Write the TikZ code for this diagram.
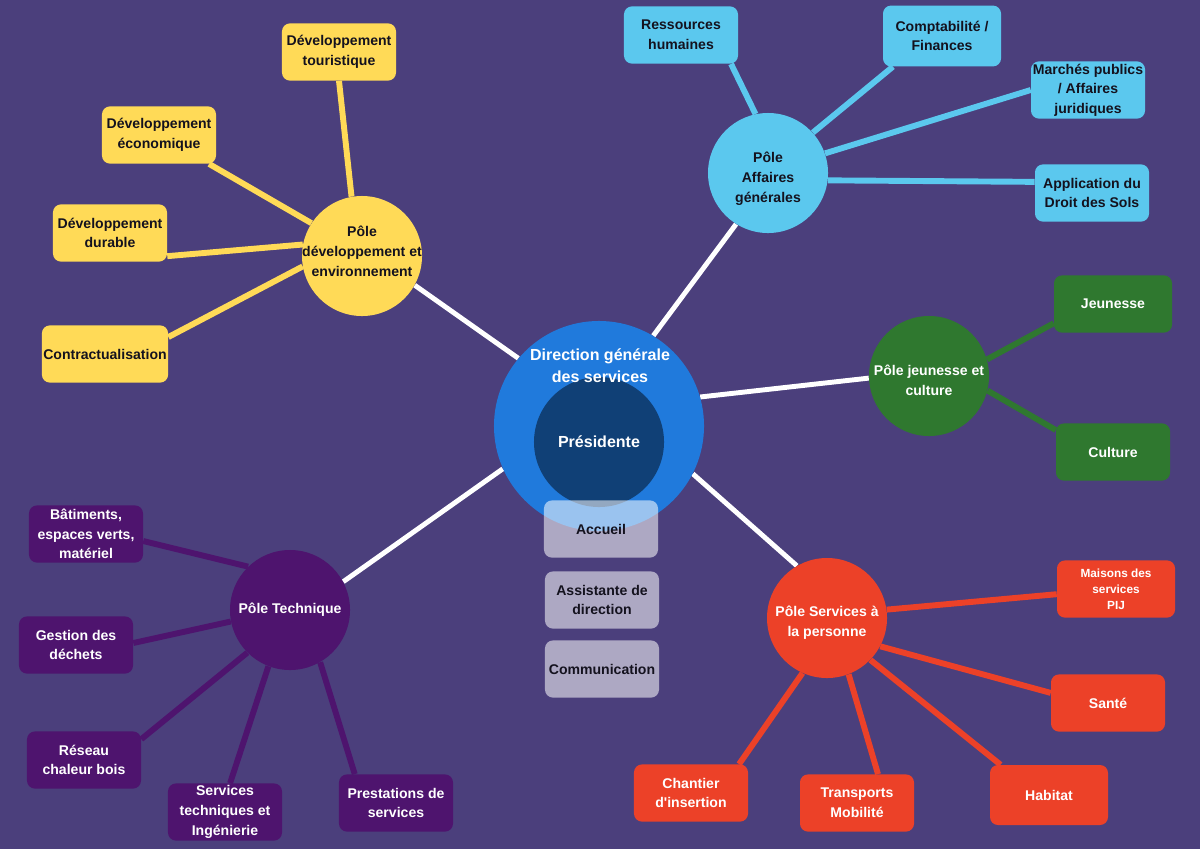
\documentclass[tikz,border=0pt]{standalone}
\usepackage{fontspec}
\setmainfont{Liberation Sans}
\usetikzlibrary{backgrounds}
\definecolor{fond}{RGB}{75,63,124}
\definecolor{jaune}{RGB}{255,218,87}
\definecolor{ciel}{RGB}{91,200,238}
\definecolor{bleu}{RGB}{32,122,220}
\definecolor{nuit}{RGB}{16,64,118}
\definecolor{vert}{RGB}{47,120,47}
\definecolor{rouge}{RGB}{236,65,40}
\definecolor{violet}{RGB}{78,20,110}
\definecolor{encre}{RGB}{20,18,30}

\begin{document}
\begin{tikzpicture}[x=0.025cm, y=-0.025cm,
  every node/.style={font=\bfseries\fontsize{10}{14}\selectfont, align=center},
  pole/.style={circle, minimum size=3cm, inner sep=0pt},
  boite/.style={rounded corners=0.2cm, minimum width=2.85cm, minimum height=1.43cm, inner sep=1pt},
  gris/.style={boite, fill=white, fill opacity=.55, text opacity=1, text=encre},
  lien/.style={line width=4.2pt},
  axe/.style={white, line width=3.5pt}]
  \begin{pgfonlayer}{background}
    \fill[fond] (0,0) rectangle (1200,849);
  \end{pgfonlayer}
  \useasboundingbox (0,0) rectangle (1200,849);

  % centre
  \node[circle, fill=bleu, minimum size=5.25cm] (dgs) at (599,426) {};
  \node[circle, fill=nuit, minimum size=3.25cm, text=white, font=\bfseries\fontsize{11.4}{16}\selectfont] (pres) at (599,442) {Présidente};
  \node[text=white, font=\bfseries\fontsize{11.4}{15.6}\selectfont] (dgs-t) at (600,366) {Direction générale\\des services};
  \node[gris] (acc) at (601,529) {Accueil};
  \node[gris] (ass) at (602,600) {Assistante de\\direction};
  \node[gris] (com) at (602,669) {Communication};

  % pôles
  \node[pole, fill=jaune, label={[text=encre, yshift=.12cm]center:Pôle\\développement et\\environnement}] (pd) at (362,256) {};
  \node[pole, fill=ciel, label={[text=encre, yshift=-.14cm]center:Pôle\\Affaires\\générales}] (pa) at (768,173) {};
  \node[pole, fill=vert, label={[text=white, yshift=-.1cm]center:Pôle jeunesse et\\culture}] (pj) at (929,376) {};
  \node[pole, fill=rouge, label={[text=white, yshift=-.12cm]center:Pôle Services à\\la personne}] (ps) at (827,618) {};
  \node[pole, fill=violet, label={[text=white]center:Pôle Technique}] (pt) at (290,610) {};

  % développement
  \node[boite, fill=jaune, text=encre] (d1) at (339,52) {Développement\\touristique};
  \node[boite, fill=jaune, text=encre] (d2) at (159,135) {Développement\\économique};
  \node[boite, fill=jaune, text=encre] (d3) at (110,233) {Développement\\durable};
  \node[boite, fill=jaune, text=encre, minimum width=3.1cm] (d4) at (105,354) {Contractualisation};

  % affaires générales
  \node[boite, fill=ciel, text=encre] (a1) at (681,35) {Ressources\\humaines};
  \node[boite, fill=ciel, text=encre, minimum width=2.95cm, minimum height=1.52cm] (a2) at (942,36) {Comptabilité /\\Finances};
  \node[boite, fill=ciel, text=encre] (a3) at (1088,90) {Marchés publics\\/ Affaires\\juridiques};
  \node[boite, fill=ciel, text=encre] (a4) at (1092,193) {Application du\\Droit des Sols};

  % jeunesse
  \node[boite, fill=vert, text=white, minimum width=2.95cm] (j1) at (1113,304) {Jeunesse};
  \node[boite, fill=vert, text=white] (j2) at (1113,452) {Culture};

  % services à la personne
  \node[boite, fill=rouge, text=white, minimum width=2.95cm, font=\bfseries\fontsize{8.4}{11.3}\selectfont] (s1) at (1116,589) {Maisons des\\services\\PIJ};
  \node[boite, fill=rouge, text=white] (s2) at (1108,703) {Santé};
  \node[boite, fill=rouge, text=white, minimum width=2.95cm, minimum height=1.5cm] (s3) at (1049,795) {Habitat};
  \node[boite, fill=rouge, text=white] (s4) at (857,803) {Transports\\Mobilité};
  \node[boite, fill=rouge, text=white] (s5) at (691,793) {Chantier\\d\textquotesingle insertion};

  % technique
  \node[boite, fill=violet, text=white] (t1) at (86,534) {Bâtiments,\\espaces verts,\\matériel};
  \node[boite, fill=violet, text=white] (t2) at (76,645) {Gestion des\\déchets};
  \node[boite, fill=violet, text=white] (t3) at (84,760) {Réseau\\chaleur bois};
  \node[boite, fill=violet, text=white] (t4) at (225,812) {Services\\techniques et\\Ingénierie};
  \node[boite, fill=violet, text=white] (t5) at (396,803) {Prestations de\\services};

  \begin{pgfonlayer}{background}
    \draw[axe] (dgs.140)--(pd.-29);
    \draw[axe] (dgs.59)--(pa.238);
    \draw[axe] (dgs.16)--(pj.182);
    \draw[axe] (dgs.-27)--(ps.120);
    \draw[axe] (dgs.204)--(pt.28);
    \draw[lien, jaune] (pd.100)--(d1.south);
    \draw[lien, jaune] (pd.147)--(d2.-30);
    \draw[lien, jaune] (pd.169)--(d3.-22);
    \draw[lien, jaune] (pd.190)--(d4.15);
    \draw[lien, ciel] (pa.102)--(a1.-30);
    \draw[lien, ciel] (pa.42)--(a2.212);
    \draw[lien, ciel] (pa.19)--(a3.west);
    \draw[lien, ciel] (pa.-7)--(a4.169);
    \draw[lien, vert] (pj.16)--(j1.198);
    \draw[lien, vert] (pj.-14)--(j2.159);
    \draw[lien, rouge] (ps.8)--(s1.185);
    \draw[lien, rouge] (ps.-28)--(s2.170);
    \draw[lien, rouge] (ps.-44)--(s3.148);
    \draw[lien, rouge] (ps.-69)--(s4.54);
    \draw[lien, rouge] (ps.246)--(s5.31);
    \draw[lien, violet] (pt.134)--(t1.-7);
    \draw[lien, violet] (pt.191)--(t2.2);
    \draw[lien, violet] (pt.225)--(t3.20);
    \draw[lien, violet] (pt.249)--(t4.80);
    \draw[lien, violet] (pt.-60)--(t5.145);
  \end{pgfonlayer}
\end{tikzpicture}
\end{document}
